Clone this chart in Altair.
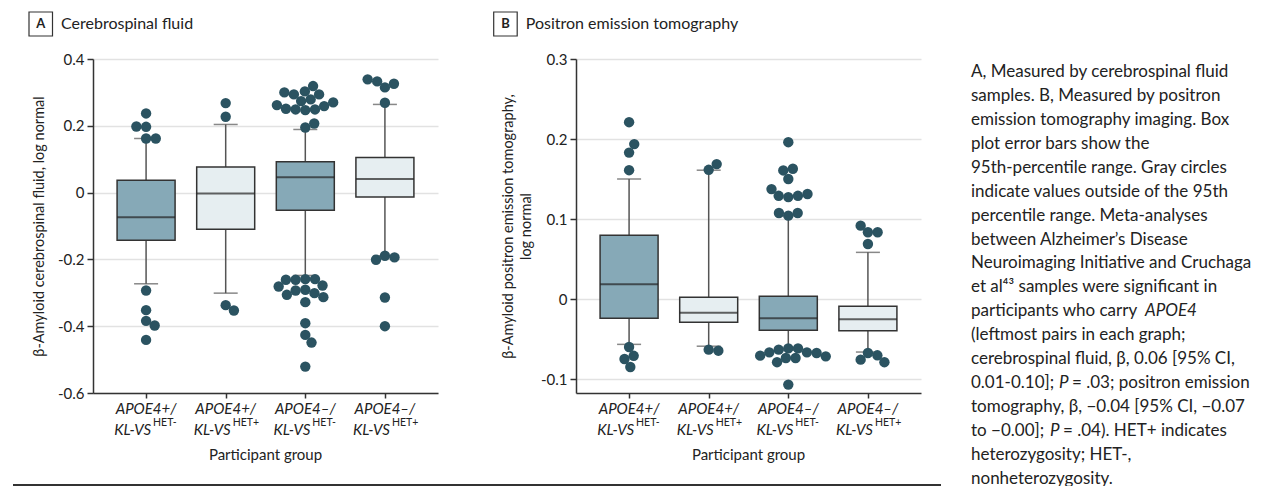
import altair as alt
import pandas as pd

# ---------------- data ----------------
groups = ["APOE4+/KL-VS HET-", "APOE4+/KL-VS HET+", "APOE4-/KL-VS HET-", "APOE4-/KL-VS HET+"]
het = ["HET-", "HET+", "HET-", "HET+"]
label_line1 = ["APOE4+/", "APOE4+/", "APOE4–/", "APOE4–/"]
label_line2 = ["KL-VS", "KL-VS", "KL-VS", "KL-VS"]
label_sup = ["HET-", "HET+", "HET-", "HET+"]

# Panel A: cerebrospinal fluid
csf_q1 = [-0.143, -0.110, -0.053, -0.013]
csf_med = [-0.074, -0.003, 0.046, 0.041]
csf_q3 = [0.037, 0.077, 0.092, 0.105]
csf_lo = [-0.273, -0.301, -0.248, -0.189]
csf_hi = [0.162, 0.204, 0.189, 0.264]
csf_out_g1 = [0.237, 0.197, 0.198, 0.162, 0.162, -0.293, -0.352, -0.384, -0.398, -0.441]
csf_out_g2 = [0.268, 0.227, -0.353, -0.337]
csf_out_g3 = [0.319, 0.294, 0.294, 0.300, 0.303, 0.274, 0.279, 0.249, 0.262, 0.251,
              0.259, 0.270, 0.247, 0.249, 0.195, 0.207,
              -0.259, -0.259, -0.281, -0.261, -0.261, -0.278, -0.306, -0.293,
              -0.291, -0.313, -0.301, -0.328, -0.391, -0.426, -0.449, -0.521]
csf_out_g4 = [0.339, 0.315, 0.333, 0.326, 0.269, -0.201, -0.189, -0.194, -0.314, -0.400]

# Panel B: positron emission tomography
pet_q1 = [-0.0242, -0.0292, -0.0392, -0.0396]
pet_med = [0.0183, -0.0171, -0.0242, -0.0254]
pet_q3 = [0.0796, 0.0021, 0.0033, -0.0092]
pet_lo = [-0.0567, -0.0590, -0.0640, -0.0663]
pet_hi = [0.150, 0.161, 0.104, 0.0583]
pet_out_g1 = [0.221, 0.1936, 0.183, 0.161, -0.060, -0.075, -0.071, -0.085]
pet_out_g2 = [0.1615, 0.1686, -0.0646, -0.0633]
pet_out_g3 = [0.196, 0.1607, 0.1628, 0.150, 0.1374, 0.1274, 0.1312, 0.129, 0.129,
              0.1042, 0.1075, 0.1075,
              -0.0667, -0.0617, -0.0675, -0.0633, -0.0617, -0.0667, -0.0708,
              -0.0738, -0.0738, -0.0717, -0.079, -0.107]
pet_out_g4 = [0.0917, 0.0834, 0.0834, 0.0688, -0.0675, -0.079, -0.0704, -0.0758]

caption_lines = [
    "A, Measured by cerebrospinal fluid",
    "samples. B, Measured by positron",
    "emission tomography imaging. Box",
    "plot error bars show the",
    "95th-percentile range. Gray circles",
    "indicate values outside of the 95th",
    "percentile range. Meta-analyses",
    "between Alzheimer’s Disease",
    "Neuroimaging Initiative and Cruchaga",
    "et al⁴³ samples were significant in",
    "participants who carry |APOE4",
    "(leftmost pairs in each graph;",
    "cerebrospinal fluid, β, 0.06 [95% CI,",
    "0.01-0.10]; |P| = .03; positron emission",
    "tomography, β, −0.04 [95% CI, −0.07",
    "to −0.00]; |P| = .04). HET+ indicates",
    "heterozygosity; HET-,",
    "nonheterozygosity.",
]

# ---------------- layout / style ----------------
FONT = "Lato"
W, H = 345, 334
X_DOMAIN = [-0.604, 3.604]
STEP = W / (X_DOMAIN[1] - X_DOMAIN[0])
DARK_BOX = "#86A9B7"
LIGHT_BOX = "#E6EEF1"
DOT = "#2B5361"
DOT_D = 10.0
TEXT = "#222222"

# caption segment x positions (px from caption left edge) for segments after the first
CAP_SEG_X = {10: [0, 174], 13: [0, 88, 101], 15: [0, 79, 92]}
CAP_X0 = 395      # caption left relative to panel B plot origin
CAP_Y0 = 13.2
CAP_DY = 23.9
CAP_FS = 17.0


def swarm_offsets(vals, med, ppu, d=DOT_D):
    offs = [0.0] * len(vals)
    for side in (1, -1):
        idx = [i for i, v in enumerate(vals) if (v - med) * side > 0]
        idx.sort(key=lambda i: (vals[i] - med) * side)
        placed = []
        for i in idx:
            y = vals[i] * ppu
            cands = [0.0]
            for px, py in placed:
                dy = abs(py - y)
                if dy < d:
                    dx = (d * d - dy * dy) ** 0.5
                    cands += [px + dx, px - dx]
            bal = sum(px for px, _ in placed)
            cands.sort(key=lambda c: (round(abs(c), 2), 0 if c * bal <= 0 else 1))
            for c in cands:
                if all((c - px) ** 2 + (y - py) ** 2 >= d * d - 1e-6 for px, py in placed):
                    offs[i] = c
                    placed.append((c, y))
                    break
    return offs


def make_panel(q1, med, q3, lo, hi, outs, ydom, yticks, ytitle, title_x, title_lh,
               letter, title_text, letter_x, extra=None):
    ppu = H / (ydom[1] - ydom[0])
    box_df = pd.DataFrame({"group": groups, "gi": list(range(4)), "het": het,
                           "q1": q1, "med": med, "q3": q3, "lo": lo, "hi": hi,
                           "l1": label_line1, "l2": label_line2, "sup": label_sup})
    rows = []
    for gi, vals in enumerate(outs):
        offs = swarm_offsets(vals, med[gi], ppu)
        for v, o in zip(vals, offs):
            rows.append({"group": groups[gi], "v": v, "xpos": gi + o / STEP})
    out_df = pd.DataFrame(rows)

    def xe(field):
        return alt.X(field, type="quantitative",
                     scale=alt.Scale(domain=X_DOMAIN, nice=False, zero=False),
                     axis=alt.Axis(values=[0, 1, 2, 3], labels=False, title=None, grid=False,
                                   tickSize=5, tickColor="#333", tickWidth=1.5,
                                   domainColor="#333", domainWidth=1.5))

    def ye(field):
        return alt.Y(field, type="quantitative",
                     scale=alt.Scale(domain=ydom, nice=False, zero=False),
                     axis=alt.Axis(values=yticks, title=ytitle, titleX=title_x, titleY=H / 2,
                                   titleAngle=-90, titleAlign="center", titleBaseline="middle",
                                   titleFont=FONT, titleFontSize=14.5, titleFontWeight="normal",
                                   titleColor=TEXT, titleLineHeight=title_lh,
                                   labelExpr="datum.value == 0 ? '0' : (datum.value < 0 ? '-' : '') + format(abs(datum.value), '.1f')",
                                   labelFont=FONT, labelFontSize=15, labelColor=TEXT,
                                   labelPadding=3, tickSize=6, tickColor="#333", tickWidth=1.5,
                                   domainColor="#333", domainWidth=1.5,
                                   grid=True, gridColor="#E2E2E2", gridWidth=1.5))

    base = alt.Chart(box_df)
    whisk = base.mark_rule(color="#555", strokeWidth=1.5).encode(x=xe("gi"), y=ye("lo"), y2="hi")
    cap_lo = base.mark_tick(orient="horizontal", size=24, thickness=1.5, color="#555").encode(
        x=xe("gi"), y=ye("lo"))
    cap_hi = base.mark_tick(orient="horizontal", size=24, thickness=1.5, color="#555").encode(
        x=xe("gi"), y=ye("hi"))
    box = base.mark_bar(size=58, stroke="#333", strokeWidth=1.5).encode(
        x=xe("gi"), y=ye("q1"), y2="q3",
        color=alt.Color("het:N", scale=alt.Scale(domain=["HET-", "HET+"], range=[DARK_BOX, LIGHT_BOX]),
                        legend=None))
    median = base.mark_tick(orient="horizontal", size=58, thickness=2, color="#222").encode(
        x=xe("gi"), y=ye("med"))
    dots = alt.Chart(out_df).mark_circle(size=108, color=DOT, opacity=1).encode(
        x=xe("xpos"), y=ye("v"))

    lab1 = base.mark_text(font=FONT, fontSize=15, fontStyle="italic", color=TEXT,
                          align="center", baseline="alphabetic").encode(
        x=xe("gi"), y=alt.value(355), text="l1:N")
    lab2 = base.mark_text(font=FONT, fontSize=15, fontStyle="italic", color=TEXT,
                          align="right", baseline="alphabetic", dx=5).encode(
        x=xe("gi"), y=alt.value(376), text="l2:N")
    lab3 = base.mark_text(font=FONT, fontSize=10.5, color=TEXT,
                          align="left", baseline="alphabetic", dx=7).encode(
        x=xe("gi"), y=alt.value(367), text="sup:N")
    one = alt.Chart(pd.DataFrame({"t": [title_text], "l": [letter], "p": ["Participant group"]}))
    xtitle = one.mark_text(font=FONT, fontSize=15, color=TEXT, align="center",
                           baseline="alphabetic").encode(
        x=alt.value(W / 2), y=alt.value(401), text="p:N")
    lbox = one.mark_rect(fill="white", stroke="#333", strokeWidth=1.2).encode(
        x=alt.value(letter_x), x2=alt.value(letter_x + 23.5), y=alt.value(-47), y2=alt.value(-23))
    ltext = one.mark_text(font=FONT, fontSize=13, fontWeight="bold", color=TEXT,
                          align="center", baseline="middle").encode(
        x=alt.value(letter_x + 11.75), y=alt.value(-35), text="l:N")
    ttext = one.mark_text(font=FONT, fontSize=16, color=TEXT, align="left",
                          baseline="middle").encode(
        x=alt.value(letter_x + 32), y=alt.value(-35), text="t:N")
    layers = [whisk, cap_lo, cap_hi, box, median, dots, lab1, lab2, lab3, xtitle, lbox, ltext, ttext]
    if extra:
        layers += extra
    return alt.layer(*layers).properties(width=W, height=H)


# bottom rule across figure (in panel A coordinates)
rule_df = pd.DataFrame({"k": [0]})
bottom_rule = alt.Chart(rule_df).mark_rule(color="#333", strokeWidth=2).encode(
    x=alt.value(-80), x2=alt.value(848), y=alt.value(426))

# caption segments
seg_rows = []
for i, line in enumerate(caption_lines):
    parts = line.split("|")
    xs = CAP_SEG_X.get(i, [0])
    for j, part in enumerate(parts):
        italic = (j % 2 == 1)
        seg_rows.append({"text": part.strip() if j > 0 else part.rstrip(),
                         "px": CAP_X0 + xs[j], "py": CAP_Y0 + CAP_DY * i,
                         "style": "italic" if italic else "normal"})
cap_df = pd.DataFrame(seg_rows)
cap_norm = alt.Chart(cap_df).transform_filter("datum.style == 'normal'").mark_text(
    font=FONT, fontSize=CAP_FS, color=TEXT, align="left", baseline="middle").encode(
    x=alt.X("px:Q", scale=None), y=alt.Y("py:Q", scale=None), text="text:N")
cap_ital = alt.Chart(cap_df).transform_filter("datum.style == 'italic'").mark_text(
    font=FONT, fontSize=CAP_FS, fontStyle="italic", color=TEXT, align="left", baseline="middle").encode(
    x=alt.X("px:Q", scale=None), y=alt.Y("py:Q", scale=None), text="text:N")

panel_a = make_panel(csf_q1, csf_med, csf_q3, csf_lo, csf_hi,
                     [csf_out_g1, csf_out_g2, csf_out_g3, csf_out_g4],
                     [-0.6, 0.4], [-0.6, -0.4, -0.2, 0, 0.2, 0.4],
                     "β-Amyloid cerebrospinal fluid, log normal", -54, 18,
                     "A", "Cerebrospinal fluid", -64, extra=[bottom_rule])
panel_b = make_panel(pet_q1, pet_med, pet_q3, pet_lo, pet_hi,
                     [pet_out_g1, pet_out_g2, pet_out_g3, pet_out_g4],
                     [-0.1175, 0.3], [-0.1, 0, 0.1, 0.2, 0.3],
                     ["β-Amyloid positron emission tomography,", "log normal"], -68, 18,
                     "B", "Positron emission tomography", -82.3, extra=[cap_norm, cap_ital])

chart = alt.hconcat(panel_a, panel_b, spacing=138, bounds="flush",
                    padding={"left": 4, "top": 3, "right": 0, "bottom": 0}
                    ).configure_view(stroke=None)

chart.save("out.html", embed_options={"renderer": "svg", "actions": False})
